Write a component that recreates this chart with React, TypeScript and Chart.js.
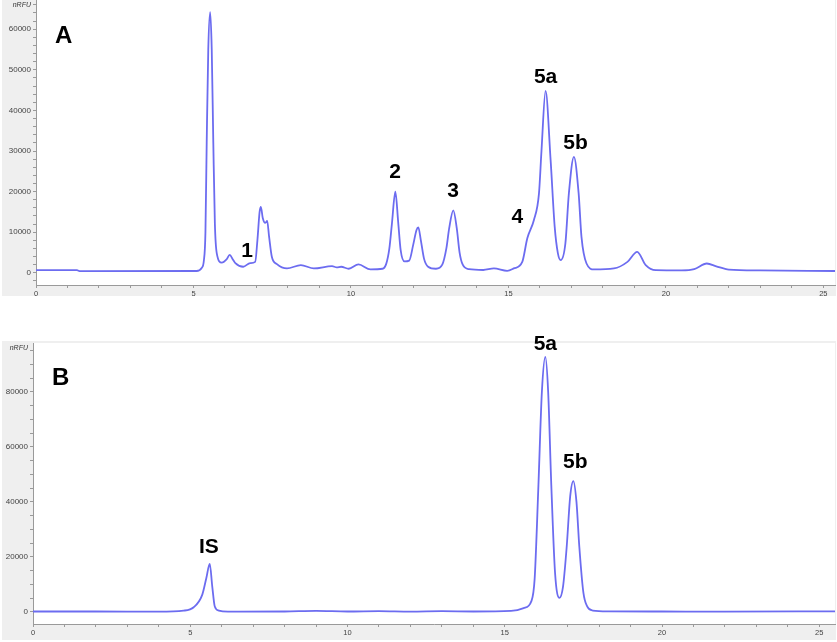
import React, { useEffect, useRef } from "react";
import { Chart, registerables } from "chart.js";

Chart.register(...registerables);

// ---- Panel A data (retention time in min, signal in nRFU) ----
const timesA = [
  0, 1.3, 1.4, 5.1, 5.26, 5.33, 5.38, 5.42, 5.47, 5.53, 5.58, 5.63, 5.68, 5.74, 5.9, 6.05, 6.15, 6.25, 6.33,
  6.58, 6.8, 6.96, 7.03, 7.1, 7.14, 7.2, 7.28, 7.34, 7.4, 7.49, 7.65, 7.97, 8.41, 8.82, 9.4, 9.55, 9.69, 9.93,
  10.24, 10.62, 11.0, 11.12, 11.22, 11.3, 11.41, 11.5, 11.58, 11.7, 11.85, 11.98, 12.08, 12.14, 12.22, 12.32,
  12.45, 12.7, 12.9, 13.03, 13.12, 13.25, 13.36, 13.45, 13.55, 13.75, 14.2, 14.54, 14.96, 15.17, 15.44, 15.6,
  15.81, 15.97, 16.05, 16.18, 16.34, 16.47, 16.57, 16.66, 16.81, 16.92, 17.08, 17.23, 17.32, 17.48, 17.72,
  18.35, 18.78, 19.09, 19.36, 19.68, 20.5, 20.9, 21.3, 21.6, 22.0, 23.0, 25.4,
];
const valuesA = [
  650, 650, 400, 450, 1200, 3000, 10000, 32000, 55000, 64200, 55000, 32000, 12000, 4800, 2500, 3300, 4400, 3300, 2400,
  1500, 2400, 2700, 8000, 15000, 16250, 13500, 12300, 12800, 9000, 3900, 2140, 1080, 1900, 1080, 1650, 1350, 1500, 1000,
  2070, 840, 1000, 2200, 6000, 12000, 20000, 12500, 5500, 2800, 3000, 7000, 10500, 11200, 8000, 3500,
  1500, 1000, 2000, 6000, 11000, 15400, 11000, 5000, 2000, 900, 700, 1080, 500, 1080, 2700, 8500,
  13000, 19500, 30000, 44800, 27760, 11300, 4850, 3130, 7300, 19560, 28570, 19560, 8870, 2300, 840,
  1080, 2700, 5170, 1900, 660, 600, 900, 2300, 1600, 800, 600, 450,
];
const peakTextA = ["1", "2", "3", "4", "5a", "5b"];
const peakTimeA = [6.7, 11.4, 13.24, 15.28, 16.18, 17.13];
const peakLevelA = [5220, 24800, 20100, 13800, 48100, 31900];
const yTicksA = { min: -3000, max: 67200, major: 10000, minor: 2000 };

// ---- Panel B data ----
const timesB = [
  0, 2, 4, 4.79, 5.11, 5.38, 5.51, 5.62, 5.7, 5.78, 5.91, 6.2, 8, 9, 10, 11, 12, 13, 14, 15.2, 15.6, 15.85,
  15.95, 16.07, 16.18, 16.29, 16.38, 16.48, 16.6, 16.74, 16.85, 16.97, 17.08, 17.18, 17.28, 17.37, 17.5, 17.62,
  17.8, 18.3, 20, 22, 25.5,
];
const valuesB = [
  150, 150, 120, 470, 1700, 6200, 12250, 17450, 9200, 1940, 470, 100, 150, 350, 150, 300, 100, 250, 150, 350, 1350, 4000,
  12000, 46000, 80000, 92700, 80000, 46000, 14000, 5100, 9000, 23800, 42000, 47600, 40000, 23800, 7000, 2000,
  500, 200, 150, 100, 200,
];
const peakTextB = ["IS", "5a", "5b"];
const peakTimeB = [5.59, 16.29, 17.24];
const peakLevelB = [23700, 97300, 54400];
const yTicksB = { min: -4400, max: 97800, major: 20000, minor: 5000 };

const xTicks = { major: 5, minor: 1 };

const FONT = "'Liberation Sans', Arial, sans-serif";
const LINE = "#6c6cf0";

const panelPlugin = {
  id: "panelDeco",
  beforeDraw(chart: any, _a: any, opts: any) {
    const { ctx, chartArea } = chart;
    ctx.save();
    ctx.fillStyle = "#efefef";
    const top = Math.max(0, chartArea.top - 2);
    ctx.fillRect(2, top, chart.width - 3, chart.height - top);
    ctx.fillStyle = "#ffffff";
    ctx.fillRect(chartArea.left, chartArea.top, chartArea.right - chartArea.left, chartArea.bottom - chartArea.top);
    ctx.restore();
  },
  afterDraw(chart: any, _a: any, opts: any) {
    const { ctx, chartArea, scales } = chart;
    ctx.save();
    ctx.fillStyle = "#333";
    ctx.font = `italic 7px ${FONT}`;
    ctx.textAlign = "right";
    ctx.textBaseline = "middle";
    ctx.fillText("nRFU", chartArea.left - 5, chartArea.top + 5);

    ctx.fillStyle = "#000";
    ctx.font = `bold 24px ${FONT}`;
    ctx.textAlign = "left";
    ctx.textBaseline = "alphabetic";
    ctx.fillText(opts.letter, chartArea.left + 19, chartArea.top + opts.letterBase);

    ctx.font = `bold 21px ${FONT}`;
    ctx.textAlign = "center";
    ctx.textBaseline = "middle";
    opts.texts.forEach((t: string, i: number) => {
      ctx.fillText(t, scales.x.getPixelForValue(opts.times[i]), scales.y.getPixelForValue(opts.levels[i]));
    });
    ctx.restore();
  },
};

// ticks at every multiple of the minor step inside the axis range
function stepTicks(step: number) {
  return (s: any) => {
    const out: { value: number }[] = [];
    for (let k = Math.ceil(s.min / step - 1e-9); k * step <= s.max + 1e-9; k++) {
      out.push({ value: Math.round(k * step * 1000) / 1000 });
    }
    s.ticks = out;
  };
}

function makeConfig(
  times: number[],
  values: number[],
  yt: { min: number; max: number; major: number; minor: number },
  xMax: number,
  yWidth: number,
  xHeight: number,
  padTop: number,
  deco: any
): any {
  return {
    type: "line",
    data: {
      datasets: [
        {
          data: times.map((t, i) => ({ x: t, y: values[i] })),
          borderColor: LINE,
          borderWidth: 1.8,
          pointRadius: 0,
          fill: false,
          cubicInterpolationMode: "monotone",
        },
      ],
    },
    plugins: [panelPlugin],
    options: {
      animation: false,
      responsive: false,
      layout: { padding: { top: padTop, left: 0, right: 2, bottom: 0 } },
      plugins: {
        legend: { display: false },
        tooltip: { enabled: false },
        panelDeco: deco,
      },
      scales: {
        x: {
          type: "linear",
          min: 0,
          max: xMax,
          border: { display: true, color: "#9a9a9a", width: 1 },
          grid: { drawOnChartArea: false, tickLength: 3, color: "#9a9a9a" },
          afterBuildTicks: stepTicks(xTicks.minor),
          ticks: {
            autoSkip: false,
            maxRotation: 0,
            padding: 1,
            color: "#444",
            font: { size: 7.5, family: FONT },
            callback: (v: any) => {
              const n = Number(v);
              return Math.abs(n % xTicks.major) < 1e-6 ? String(Math.round(n)) : "";
            },
          },
          afterFit: (s: any) => {
            s.height = xHeight;
            s.paddingLeft = 0;
            s.paddingRight = 0;
          },
        },
        y: {
          type: "linear",
          min: yt.min,
          max: yt.max,
          border: { display: true, color: "#9a9a9a", width: 1 },
          grid: { drawOnChartArea: false, tickLength: 3, color: "#9a9a9a" },
          afterBuildTicks: stepTicks(yt.minor),
          ticks: {
            autoSkip: false,
            padding: 2,
            color: "#444",
            font: { size: 8, family: FONT },
            callback: (v: any) => {
              const n = Number(v);
              return Math.abs(n % yt.major) < 1e-6 ? String(Math.round(n)) : "";
            },
          },
          afterFit: (s: any) => {
            s.paddingTop = 0;
            s.paddingBottom = 0;
            s.width = yWidth;
          },
        },
      },
    },
  };
}

function Panel(props: { config: any; top: number; height: number }) {
  const ref = useRef<HTMLCanvasElement | null>(null);
  useEffect(() => {
    if (!ref.current) return;
    const chart = new Chart(ref.current, props.config);
    return () => chart.destroy();
  }, []);
  return (
    <canvas
      ref={ref}
      width={837}
      height={props.height}
      style={{ position: "absolute", left: 0, top: props.top, width: 837, height: props.height }}
    />
  );
}

export default function App() {
  const cfgA = makeConfig(timesA, valuesA, yTicksA, 25.37, 36, 11, 0, {
    letter: "A",
    letterBase: 43,
    texts: peakTextA,
    times: peakTimeA,
    levels: peakLevelA,
  });
  const cfgB = makeConfig(timesB, valuesB, yTicksB, 25.5, 33, 16, 43, {
    letter: "B",
    letterBase: 42,
    texts: peakTextB,
    times: peakTimeB,
    levels: peakLevelB,
  });
  return (
    <div style={{ position: "absolute", left: 0, top: 0, width: 837, height: 642, background: "#fff" }}>
      <Panel config={cfgA} top={0} height={296} />
      <Panel config={cfgB} top={300} height={340} />
    </div>
  );
}
